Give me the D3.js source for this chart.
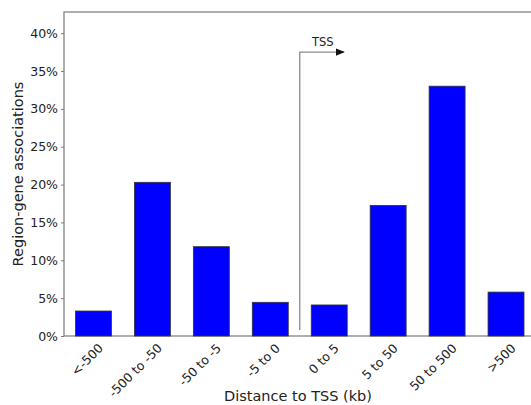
<!DOCTYPE html>
<html>
<head>
<meta charset="utf-8">
<script src="https://cdn.jsdelivr.net/npm/d3@7"></script>
<style>
  html, body { margin: 0; padding: 0; background: #fff; }
  svg { display: block; font-family: "DejaVu Sans", sans-serif; }
</style>
</head>
<body>
<svg id="chart" width="531" height="405"></svg>
<script>
// Share of region-gene associations by distance bin to the TSS
const categories = ["<-500", "-500 to -50", "-50 to -5", "-5 to 0", "0 to 5", "5 to 50", "50 to 500", ">500"];
const values = [3.3, 20.3, 11.8, 4.45, 4.1, 17.25, 33.0, 5.8];
const yTicks = [0, 5, 10, 15, 20, 25, 30, 35, 40];
const yMax = 42.8;
const tssPosition = 3.5;   // boundary between upstream and downstream bins

const svg = d3.select("#chart");

const x = d3.scaleLinear().domain([-0.5, categories.length - 0.5]).range([64, 535.5]);
const y = d3.scaleLinear().domain([0, yMax]).range([336, 12]);
const barWidth = 0.61;

// frame
svg.append("rect")
  .attr("x", x(-0.5)).attr("y", y(yMax))
  .attr("width", x(categories.length - 0.5) - x(-0.5))
  .attr("height", y(0) - y(yMax))
  .attr("fill", "none").attr("stroke", "#7a7a7a").attr("stroke-width", 1.2);

// bars
svg.append("g").selectAll("rect").data(values).join("rect")
  .attr("x", (d, i) => x(i - barWidth / 2))
  .attr("width", (d, i) => x(i + barWidth / 2) - x(i - barWidth / 2))
  .attr("y", d => y(d))
  .attr("height", d => y(0) - y(d))
  .attr("fill", "#0000ff")
  .attr("stroke", "#333").attr("stroke-width", 0.8);

// y axis
const yAxis = d3.axisLeft(y).tickValues(yTicks).tickFormat(d => d + "%").tickSize(3).tickPadding(3);
const gy = svg.append("g").attr("transform", `translate(${x(-0.5)},0)`).call(yAxis);
gy.select(".domain").remove();
gy.selectAll(".tick line").attr("stroke", "#7a7a7a");
gy.selectAll(".tick text").attr("font-size", 12.5).attr("fill", "#222").attr("font-family", "DejaVu Sans");

// x axis with rotated labels
const xAxis = d3.axisBottom(x).tickValues(d3.range(categories.length)).tickFormat(i => categories[i]).tickSize(0);
const gx = svg.append("g").attr("transform", `translate(0,${y(0)})`).call(xAxis);
gx.select(".domain").remove();
gx.selectAll(".tick text")
  .attr("font-size", 12.5).attr("fill", "#222").attr("font-family", "DejaVu Sans")
  .attr("text-anchor", "end")
  .attr("dy", null).attr("y", 0)
  .attr("transform", "translate(10,13) rotate(-45)");

// TSS marker
const tx = x(tssPosition);
const defs = svg.append("defs");
defs.append("marker").attr("id", "arrowhead")
  .attr("viewBox", "0 0 10 10").attr("refX", 9).attr("refY", 5)
  .attr("markerWidth", 7).attr("markerHeight", 7).attr("orient", "auto")
  .append("path").attr("d", "M0,1 L10,5 L0,9 Z").attr("fill", "#111");

svg.append("path")
  .attr("d", `M${tx},${y(0.8)} V${y(37.5)} H${x(tssPosition + 0.75)}`)
  .attr("fill", "none").attr("stroke", "#8a8a8a").attr("stroke-width", 1.3)
  .attr("marker-end", "url(#arrowhead)");

svg.append("text")
  .attr("x", tx + 23).attr("y", y(38.3))
  .attr("text-anchor", "middle").attr("font-size", 11.5).attr("fill", "#222")
  .text("TSS");

// axis titles
svg.append("text")
  .attr("transform", `translate(23,${(y(0) + y(yMax)) / 2}) rotate(-90)`)
  .attr("text-anchor", "middle").attr("font-size", 14.5).attr("fill", "#222")
  .text("Region-gene associations");

svg.append("text")
  .attr("x", 298).attr("y", 400.5)
  .attr("text-anchor", "middle").attr("font-size", 14.5).attr("fill", "#222")
  .text("Distance to TSS (kb)");
</script>
</body>
</html>
